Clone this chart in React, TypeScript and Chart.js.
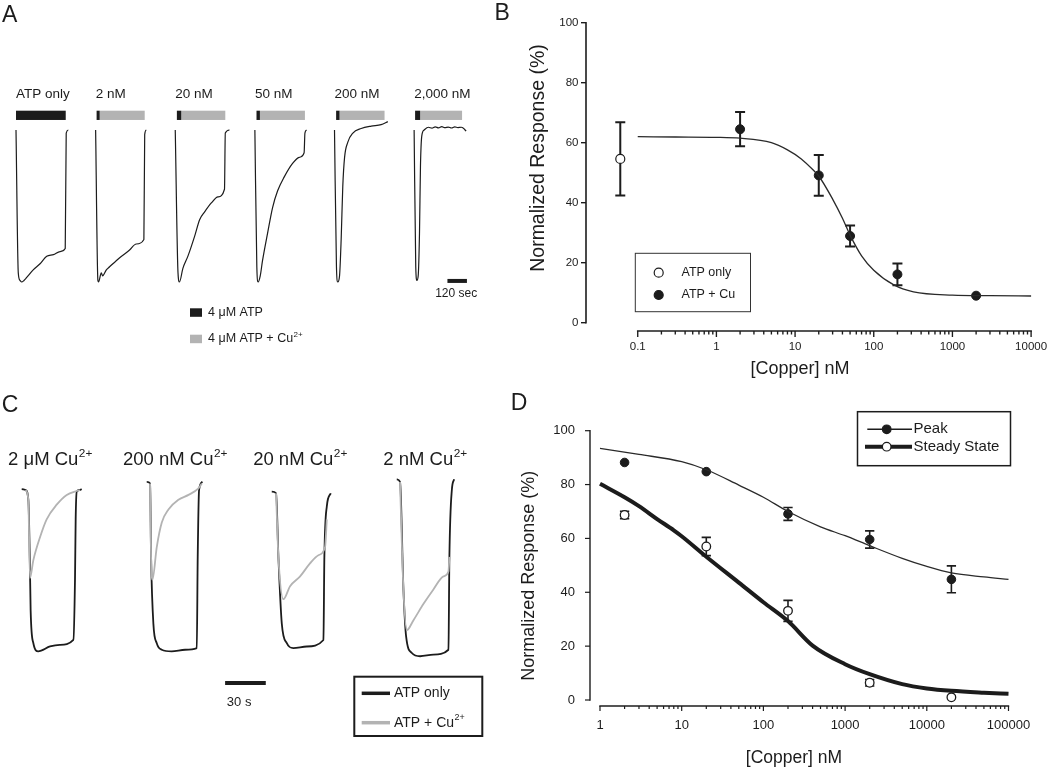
import React, { useEffect, useRef } from "react";
import { Chart, registerables } from "chart.js";

Chart.register(...registerables);

const FONT = "'Liberation Sans', Arial, Helvetica, sans-serif";
const PAGE_W = 1050;
const PAGE_H = 768;
const INK = "#1c1c1c";
const GREY = "#b3b3b3";

// ================= Panel A : whole-cell current traces (time s, current % of peak) =================
const A_LABELS = ["ATP only", "2 nM", "20 nM", "50 nM", "200 nM", "2,000 nM"];
const A_BLACK_START = [0, 6, 10, 10, 10, 6];
const A_BLACK_END = [306, 25, 37, 31, 31, 37];
const A_GREY_END = [306, 302, 308, 308, 308, 295];
const A_SCALE_SEC = 120;

const A1_T = [0, 14, 25, 35, 49, 66, 106, 148, 189, 230, 271, 303, 309, 322];
const A1_V = [0, -94, -99, -100, -99, -97, -92, -88, -83, -82, -80, -78, -2, 0];
const A2_T = [0, 14, 18, 35, 43, 66, 86, 148, 209, 250, 297, 302, 312];
const A2_V = [0, -99, -100, -94, -96, -92, -90, -84, -79, -75, -72, -3, 0];
const A3_T = [0, 17, 26, 47, 78, 119, 150, 180, 222, 263, 303, 308, 334];
const A3_V = [0, -94, -100, -91, -83, -70, -59, -54, -48, -44, -39, -2, 0];
const A4_T = [0, 12, 20, 33, 47, 78, 109, 140, 180, 232, 273, 303, 308, 318];
const A4_V = [0, -90, -100, -96, -86, -68, -51, -40, -31, -22, -18, -15, -2, 0];
const A5_T = [0, 12, 20, 31, 41, 51, 62, 82, 113, 164, 226, 287, 328];
const A5_V = [0, -90, -100, -96, -72, -37, -18, -8, -2, 1, 2.6, 3.5, 5.5];
const A6_T = [0, 10, 17, 25, 33, 39, 47, 62, 88, 110, 130, 150, 170, 190, 210, 230, 250, 270, 290, 305, 320];
const A6_V = [0, -90, -99, -96, -68, -24, -4, 0, 1.8, 1.2, 2.0, 1.4, 2.2, 1.5, 1.9, 1.3, 2.0, 1.6, 1.8, 1.0, -0.8];

// ================= Panel B : dose response =================
const B_ATP_X = [0.06];
const B_ATP_Y = [54.6];
const B_ATP_ERR = [12.2];
const B_CU_X = [2, 20, 50, 200, 2000];
const B_CU_Y = [64.5, 49.1, 28.9, 16.1, 9.0];
const B_CU_ERR = [5.7, 6.8, 3.5, 3.6, 0];
const B_FIT_X = [0.1, 0.3, 1, 2, 5, 8, 12, 17, 20, 30, 40, 50, 70, 100, 180, 320, 1000, 3000, 10000];
const B_FIT_Y = [62, 61.9, 61.8, 61.5, 60, 57.6, 54.6, 50.9, 48.9, 41.2, 34.8, 29.2, 22.3, 17.5, 12.6, 10.3, 9.2, 9.0, 8.9];
const B_X_TICKS = [0.1, 1, 10, 100, 1000, 10000];
const B_X_LABELS = ["0.1", "1", "10", "100", "1000", "10000"];
const B_Y_TICKS = [0, 20, 40, 60, 80, 100];

// ================= Panel C : paired traces =================
const C_LABELS = ["2 μM Cu", "200 nM Cu", "20 nM Cu", "2 nM Cu"];
const C_SUP = "2+";
const C_SCALE_SEC = 30;

const C1_ATP_T = [0, 2.9, 4.9, 6.0, 6.6, 8.6, 12.2, 20.9, 28.2, 38.1, 39.3, 39.8, 40.6, 42.8, 44.2];
const C1_ATP_V = [0.6, 0, -6, -43, -74, -94, -99, -96, -95, -92, -55, -18, -1, 0, 0.6];
const C1_CU_T = [2.9, 4.9, 6.1, 8.6, 13.5, 18.4, 25.8, 33.2, 40.6, 43];
const C1_CU_V = [0, -6, -54, -43, -29, -18, -9, -3, -0.6, 0];
const C2_ATP_T = [0, 2.5, 3.2, 4.9, 7.4, 11.1, 18.4, 28.3, 36.9, 37.6, 38.6, 41.1];
const C2_ATP_V = [5, 4, -41, -82, -94, -98, -99, -98, -97, -41, 0, 5];
const C2_CU_T = [2.5, 3.2, 4.2, 7.4, 11.1, 16, 23.4, 30.8, 38.1, 40.6];
const C2_CU_V = [4, -41, -55, -35, -20, -12, -6, -3, 1, 4];
const C3_ATP_T = [0, 3.2, 4.9, 7.4, 11.1, 15.9, 25.8, 38.1, 38.8, 40.6, 43.5];
const C3_ATP_V = [-1, -2, -41, -82, -94, -97, -96, -92, -41, -10, -2];
const C3_CU_T = [3.2, 4.9, 8.6, 13.5, 20.9, 28.2, 34.4, 39.3, 40.6];
const C3_CU_V = [-2, -41, -67, -59, -53, -45, -40, -35, -18];
const C4_ATP_T = [0, 2.4, 4.9, 6.9, 11.1, 17.2, 27, 38.1, 38.8, 40.6, 42.3];
const C4_ATP_V = [6.6, 5, -61, -90, -100, -102, -101, -98, -41, 0, 6.6];
const C4_CU_T = [2.4, 4.9, 7.4, 12.2, 19.6, 27, 34.4, 38.1, 38.8];
const C4_CU_V = [5, -61, -86, -80, -70, -61, -53, -50, -41];

// ================= Panel D : peak vs steady state =================
const D_X = [2, 20, 200, 2000, 20000];
const D_PEAK = [88.2, 84.8, 69.1, 59.6, 44.8];
const D_PEAK_ERR = [0, 0, 2.4, 3.2, 5.0];
const D_STEADY = [68.7, 57.0, 33.1, 6.4, 1.0];
const D_STEADY_ERR = [1.4, 3.4, 3.9, 1.2, 0];
const D_PEAK_FIT_X = [1, 3, 10, 20, 50, 100, 200, 500, 1000, 2000, 5000, 10000, 20000, 50000, 100000];
const D_PEAK_FIT_Y = [93.4, 91.2, 88.5, 85.5, 79.8, 75.3, 70.0, 64.3, 61.0, 57.3, 52.6, 49.6, 47.2, 45.7, 44.8];
const D_SS_FIT_X = [1, 2, 3, 5, 8, 10, 20, 50, 100, 200, 400, 1000, 2000, 5000, 10000, 20000, 50000, 100000];
const D_SS_FIT_Y = [80.3, 75.3, 72.0, 67.2, 63.0, 60.8, 53.2, 43.6, 36.3, 29.3, 20.2, 13.3, 9.6, 5.9, 4.3, 3.4, 2.7, 2.3];
const D_X_TICKS = [1, 10, 100, 1000, 10000, 100000];
const D_X_LABELS = ["1", "10", "100", "1000", "10000", "100000"];
const D_Y_TICKS = [0, 20, 40, 60, 80, 100];

// ---------------- layout constants ----------------
const A_PERIOD = 490; // seconds between trace origins on the shared time axis
const C_PERIOD = 92.2;

// ---------------- drawing helpers ----------------
function txt(ctx: any, s: string, x: number, y: number, size: number, align = "left", baseline = "middle", color = INK) {
  ctx.font = `${size}px ${FONT}`;
  ctx.fillStyle = color;
  ctx.textAlign = align;
  ctx.textBaseline = baseline;
  ctx.fillText(s, x, y);
}

function supTxt(ctx: any, main: string, sup: string, x: number, y: number, size: number, align = "left") {
  ctx.font = `${size}px ${FONT}`;
  const w1 = ctx.measureText(main).width;
  const ss = size * 0.64;
  ctx.font = `${ss}px ${FONT}`;
  const w2 = ctx.measureText(sup).width;
  const total = w1 + 0.5 + w2;
  const x0 = align === "center" ? x - total / 2 : x;
  txt(ctx, main, x0, y, size, "left", "middle");
  txt(ctx, sup, x0 + w1 + 0.5, y - size * 0.36, ss, "left", "middle");
}

function seg(ctx: any, x1: number, y1: number, x2: number, y2: number, lw: number, color = INK) {
  ctx.strokeStyle = color;
  ctx.lineWidth = lw;
  ctx.beginPath();
  ctx.moveTo(x1, y1);
  ctx.lineTo(x2, y2);
  ctx.stroke();
}

function errorBars(ctx: any, xs: any, ys: any, xv: number[], yv: number[], ev: number[], capW: number, lw: number) {
  ctx.strokeStyle = INK;
  ctx.lineWidth = lw;
  for (let i = 0; i < xv.length; i++) {
    if (!ev[i]) continue;
    const px = xs.getPixelForValue(xv[i]);
    const t = ys.getPixelForValue(yv[i] + ev[i]);
    const b = ys.getPixelForValue(yv[i] - ev[i]);
    ctx.beginPath();
    ctx.moveTo(px, t);
    ctx.lineTo(px, b);
    ctx.moveTo(px - capW / 2, t);
    ctx.lineTo(px + capW / 2, t);
    ctx.moveTo(px - capW / 2, b);
    ctx.lineTo(px + capW / 2, b);
    ctx.stroke();
  }
}

function logAxisX(ctx: any, xs: any, yPx: number, ticks: number[], labels: string[], major: number, minor: number, lw: number, labelY: number, size: number) {
  const x0 = xs.getPixelForValue(ticks[0]);
  const x1 = xs.getPixelForValue(ticks[ticks.length - 1]);
  seg(ctx, x0 - lw / 2, yPx, x1 + lw / 2, yPx, lw);
  ctx.beginPath();
  ctx.lineWidth = lw * 0.85;
  for (let d = 0; d < ticks.length; d++) {
    const px = xs.getPixelForValue(ticks[d]);
    ctx.moveTo(px, yPx);
    ctx.lineTo(px, yPx + major);
    if (d < ticks.length - 1) {
      for (let k = 2; k <= 9; k++) {
        const mx = xs.getPixelForValue(ticks[d] * k);
        ctx.moveTo(mx, yPx);
        ctx.lineTo(mx, yPx + minor);
      }
    }
  }
  ctx.stroke();
  labels.forEach((s, i) => txt(ctx, s, xs.getPixelForValue(ticks[i]), labelY, size, "center", "middle"));
}

function linAxisY(ctx: any, ys: any, xPx: number, ticks: number[], tickLen: number, lw: number, labelRight: number, size: number) {
  const yTop = ys.getPixelForValue(ticks[ticks.length - 1]);
  const yBot = ys.getPixelForValue(ticks[0]);
  seg(ctx, xPx, yTop - lw / 2, xPx, yBot + lw / 2, lw);
  ticks.forEach((t) => {
    const py = ys.getPixelForValue(t);
    seg(ctx, xPx - tickLen, py, xPx, py, lw * 0.85);
    txt(ctx, String(t), labelRight, py, size, "right", "middle");
  });
}

function rotTitle(ctx: any, s: string, cx: number, cy: number, size: number) {
  ctx.save();
  ctx.translate(cx, cy);
  ctx.rotate(-Math.PI / 2);
  txt(ctx, s, 0, 0, size, "center", "middle");
  ctx.restore();
}

function dot(ctx: any, x: number, y: number, r: number, filled: boolean, lw = 1.2) {
  ctx.beginPath();
  ctx.arc(x, y, r, 0, Math.PI * 2);
  ctx.fillStyle = filled ? INK : "#ffffff";
  ctx.fill();
  ctx.lineWidth = lw;
  ctx.strokeStyle = INK;
  ctx.stroke();
}

function common(pad: any) {
  return {
    responsive: false,
    maintainAspectRatio: false,
    animation: false,
    devicePixelRatio: 1,
    events: [],
    layout: { padding: pad },
    plugins: { legend: { display: false }, tooltip: { enabled: false }, title: { display: false } },
  };
}

function pts(xs: number[], ys: number[], shift = 0) {
  return xs.map((x, i) => ({ x: x + shift, y: ys[i] }));
}

// ---------------- Panel A ----------------
function makeA(canvas: HTMLCanvasElement) {
  const T = [A1_T, A2_T, A3_T, A4_T, A5_T, A6_T];
  const V = [A1_V, A2_V, A3_V, A4_V, A5_V, A6_V];
  const datasets = T.map((t, i) => ({
    type: "line",
    data: pts(t, V[i], i * A_PERIOD),
    borderColor: INK,
    borderWidth: 1.2,
    pointRadius: 0,
    cubicInterpolationMode: "monotone",
    clip: false,
  }));
  const plugin = {
    id: "panelA",
    afterDraw(chart: any) {
      const { ctx } = chart;
      const xs = chart.scales.x;
      const ys = chart.scales.y;
      ctx.save();
      txt(ctx, "A", 2, 22, 23, "left", "alphabetic");
      const bTop = ys.getPixelForValue(12.7);
      const bBot = ys.getPixelForValue(6.6);
      A_LABELS.forEach((lab, i) => {
        const o = i * A_PERIOD;
        const xb0 = xs.getPixelForValue(o + A_BLACK_START[i]);
        const xb1 = xs.getPixelForValue(o + A_BLACK_END[i]);
        const xg1 = xs.getPixelForValue(o + A_GREY_END[i]);
        ctx.fillStyle = GREY;
        if (xg1 > xb1) ctx.fillRect(xb1, bTop, xg1 - xb1, bBot - bTop);
        ctx.fillStyle = INK;
        ctx.fillRect(xb0, bTop, xb1 - xb0, bBot - bTop);
        txt(ctx, lab, xs.getPixelForValue(o), bTop - 16.5, 13.5, "left", "middle");
      });
      // scale bar
      const sx0 = xs.getPixelForValue(2655);
      const sx1 = xs.getPixelForValue(2655 + A_SCALE_SEC);
      const sy = ys.getPixelForValue(-99.3);
      seg(ctx, sx0, sy, sx1, sy, 4);
      txt(ctx, `${A_SCALE_SEC} sec`, (sx0 + sx1) / 2 - 1, sy + 13, 12, "center", "middle");
      // legend
      ctx.fillStyle = INK;
      ctx.fillRect(190, 308.3, 12, 8.5);
      ctx.fillStyle = GREY;
      ctx.fillRect(190, 334.7, 12, 8.5);
      txt(ctx, "4 μM ATP", 208, 312.7, 12.5);
      supTxt(ctx, "4 μM ATP + Cu", "2+", 208, 339, 12.5);
      ctx.restore();
    },
  };
  return new Chart(canvas, {
    type: "line",
    data: { datasets } as any,
    options: {
      ...common({ left: 16, right: 579, top: 99.6, bottom: 478.4 }),
      scales: {
        x: { type: "linear", display: false, min: 0, max: 2800 },
        y: { type: "linear", display: false, min: -105, max: 20 },
      },
    } as any,
    plugins: [plugin],
  });
}

// ---------------- Panel B ----------------
function makeB(canvas: HTMLCanvasElement) {
  const plugin = {
    id: "panelB",
    beforeDatasetsDraw(chart: any) {
      const { ctx } = chart;
      ctx.save();
      errorBars(ctx, chart.scales.x, chart.scales.y, B_ATP_X, B_ATP_Y, B_ATP_ERR, 10, 2);
      errorBars(ctx, chart.scales.x, chart.scales.y, B_CU_X, B_CU_Y, B_CU_ERR, 10, 2);
      ctx.restore();
    },
    afterDraw(chart: any) {
      const { ctx, chartArea } = chart;
      const xs = chart.scales.x;
      const ys = chart.scales.y;
      ctx.save();
      txt(ctx, "B", 494.5, 20, 23, "left", "alphabetic");
      linAxisY(ctx, ys, chartArea.left, B_Y_TICKS, 5, 1.6, 578.5, 11.5);
      logAxisX(ctx, xs, chartArea.bottom + 8.3, B_X_TICKS, B_X_LABELS, 6, 3.5, 1.6, chartArea.bottom + 24.3, 11.5);
      rotTitle(ctx, "Normalized Response (%)", 539, 158, 19.5);
      txt(ctx, "[Copper] nM", 800, 369, 18, "center", "middle");
      // legend
      ctx.fillStyle = "#ffffff";
      ctx.fillRect(635.3, 253.3, 115.2, 58.4);
      ctx.strokeStyle = "#333";
      ctx.lineWidth = 1;
      ctx.strokeRect(635.3, 253.3, 115.2, 58.4);
      dot(ctx, 658.7, 272.7, 4.5, false);
      dot(ctx, 658.7, 295, 4.5, true);
      txt(ctx, "ATP only", 681.5, 272.7, 12.5);
      txt(ctx, "ATP + Cu", 681.5, 295, 12.5);
      ctx.restore();
    },
  };
  return new Chart(canvas, {
    type: "line",
    data: {
      datasets: [
        { type: "line", data: pts(B_FIT_X, B_FIT_Y), borderColor: "#2a2a2a", borderWidth: 1.3, pointRadius: 0, cubicInterpolationMode: "monotone", clip: false },
        { type: "line", showLine: false, data: pts(B_ATP_X, B_ATP_Y), pointRadius: 4.5, pointBackgroundColor: "#ffffff", pointBorderColor: INK, pointBorderWidth: 1.2, clip: false },
        { type: "line", showLine: false, data: pts(B_CU_X, B_CU_Y), pointRadius: 4.5, pointBackgroundColor: INK, pointBorderColor: INK, pointBorderWidth: 1, clip: false },
      ],
    } as any,
    options: {
      ...common({ left: 586, right: 18.9, top: 22.7, bottom: 445.3 }),
      scales: {
        x: { type: "logarithmic", display: false, min: 0.022, max: 10000 },
        y: { type: "linear", display: false, min: 0, max: 100 },
      },
    } as any,
    plugins: [plugin],
  });
}

// ---------------- Panel C ----------------
function makeC(canvas: HTMLCanvasElement) {
  const AT = [C1_ATP_T, C2_ATP_T, C3_ATP_T, C4_ATP_T];
  const AV = [C1_ATP_V, C2_ATP_V, C3_ATP_V, C4_ATP_V];
  const CT = [C1_CU_T, C2_CU_T, C3_CU_T, C4_CU_T];
  const CV = [C1_CU_V, C2_CU_V, C3_CU_V, C4_CU_V];
  const greyDs = CT.map((t, i) => ({
    type: "line", data: pts(t, CV[i], i * C_PERIOD), borderColor: GREY, borderWidth: 1.8, pointRadius: 0, cubicInterpolationMode: "monotone", clip: false,
  }));
  const blackDs = AT.map((t, i) => ({
    type: "line", data: pts(t, AV[i], i * C_PERIOD), borderColor: INK, borderWidth: 1.8, pointRadius: 0, cubicInterpolationMode: "monotone", clip: false,
  }));
  const plugin = {
    id: "panelC",
    afterDraw(chart: any) {
      const { ctx } = chart;
      const xs = chart.scales.x;
      const ys = chart.scales.y;
      ctx.save();
      txt(ctx, "C", 1.7, 412, 23, "left", "alphabetic");
      C_LABELS.forEach((lab, i) => {
        supTxt(ctx, lab, C_SUP, xs.getPixelForValue(i * C_PERIOD + 21), 460, 18.5, "center");
      });
      const sx0 = xs.getPixelForValue(150);
      const sx1 = xs.getPixelForValue(150 + C_SCALE_SEC);
      const sy = ys.getPixelForValue(-118.4);
      seg(ctx, sx0, sy, sx1, sy, 4);
      txt(ctx, `${C_SCALE_SEC} s`, sx0 + 1.7, sy + 19.3, 13, "left", "middle");
      // legend
      ctx.fillStyle = "#ffffff";
      ctx.fillRect(354.3, 676.7, 128, 59.3);
      ctx.strokeStyle = INK;
      ctx.lineWidth = 2;
      ctx.strokeRect(354.3, 676.7, 128, 59.3);
      seg(ctx, 361.7, 693.3, 390, 693.3, 3.5, INK);
      seg(ctx, 361.7, 722.7, 390, 722.7, 3.5, GREY);
      txt(ctx, "ATP only", 394, 693.3, 14);
      supTxt(ctx, "ATP + Cu", "2+", 394, 723, 14);
      ctx.restore();
    },
  };
  return new Chart(canvas, {
    type: "line",
    data: { datasets: [...greyDs, ...blackDs] } as any,
    options: {
      ...common({ left: 21.7, right: 580.8, top: 465.55, bottom: 98.7 }),
      scales: {
        x: { type: "linear", display: false, min: 0, max: 330 },
        y: { type: "linear", display: false, min: -110, max: 15 },
      },
    } as any,
    plugins: [plugin],
  });
}

// ---------------- Panel D ----------------
function makeD(canvas: HTMLCanvasElement) {
  const plugin = {
    id: "panelD",
    beforeDatasetsDraw(chart: any) {
      const { ctx } = chart;
      ctx.save();
      errorBars(ctx, chart.scales.x, chart.scales.y, D_X, D_PEAK, D_PEAK_ERR, 9.3, 1.6);
      errorBars(ctx, chart.scales.x, chart.scales.y, D_X, D_STEADY, D_STEADY_ERR, 9.3, 1.6);
      ctx.restore();
    },
    afterDraw(chart: any) {
      const { ctx, chartArea } = chart;
      const xs = chart.scales.x;
      const ys = chart.scales.y;
      ctx.save();
      txt(ctx, "D", 510.7, 410, 23, "left", "alphabetic");
      linAxisY(ctx, ys, chartArea.left, D_Y_TICKS, 5, 1.4, 575, 13);
      logAxisX(ctx, xs, chartArea.bottom + 6, D_X_TICKS, D_X_LABELS, 5, 3, 1.4, chartArea.bottom + 25, 13);
      rotTitle(ctx, "Normalized Response (%)", 528.7, 575.8, 18);
      txt(ctx, "[Copper] nM", 794, 758.3, 17.5, "center", "middle");
      // legend
      ctx.fillStyle = "#ffffff";
      ctx.fillRect(857.5, 411.7, 153, 54);
      ctx.strokeStyle = INK;
      ctx.lineWidth = 1.5;
      ctx.strokeRect(857.5, 411.7, 153, 54);
      seg(ctx, 867.3, 429.3, 912, 429.3, 1.5);
      dot(ctx, 886.7, 429.3, 4.3, true);
      seg(ctx, 865, 446.7, 912, 446.7, 4);
      dot(ctx, 886.7, 446.7, 4.3, false);
      txt(ctx, "Peak", 913.5, 429.3, 15);
      txt(ctx, "Steady State", 913.5, 446.7, 15);
      ctx.restore();
    },
  };
  return new Chart(canvas, {
    type: "line",
    data: {
      datasets: [
        { type: "line", data: pts(D_PEAK_FIT_X, D_PEAK_FIT_Y), borderColor: "#2a2a2a", borderWidth: 1.3, pointRadius: 0, cubicInterpolationMode: "monotone", clip: false },
        { type: "line", data: pts(D_SS_FIT_X, D_SS_FIT_Y), borderColor: INK, borderWidth: 4, pointRadius: 0, cubicInterpolationMode: "monotone", clip: false },
        { type: "line", showLine: false, data: pts(D_X, D_PEAK), pointRadius: 4.3, pointBackgroundColor: INK, pointBorderColor: INK, pointBorderWidth: 1, clip: false },
        { type: "line", showLine: false, data: pts(D_X, D_STEADY), pointRadius: 4.3, pointBackgroundColor: "#ffffff", pointBorderColor: INK, pointBorderWidth: 1.3, clip: false },
      ],
    } as any,
    options: {
      ...common({ left: 590, right: 41.5, top: 430.7, bottom: 68 }),
      scales: {
        x: { type: "logarithmic", display: false, min: 0.7545, max: 100000 },
        y: { type: "linear", display: false, min: 0, max: 100 },
      },
    } as any,
    plugins: [plugin],
  });
}

export default function App() {
  const aRef = useRef<HTMLCanvasElement>(null);
  const bRef = useRef<HTMLCanvasElement>(null);
  const cRef = useRef<HTMLCanvasElement>(null);
  const dRef = useRef<HTMLCanvasElement>(null);

  useEffect(() => {
    const charts = [makeA(aRef.current!), makeB(bRef.current!), makeC(cRef.current!), makeD(dRef.current!)];
    return () => charts.forEach((c) => c.destroy());
  }, []);

  const cs: React.CSSProperties = { position: "absolute", left: 0, top: 0, width: PAGE_W, height: PAGE_H };
  return (
    <div style={{ position: "absolute", left: 0, top: 0, width: PAGE_W, height: PAGE_H, background: "#ffffff", overflow: "hidden" }}>
      <canvas ref={aRef} width={PAGE_W} height={PAGE_H} style={cs} />
      <canvas ref={bRef} width={PAGE_W} height={PAGE_H} style={cs} />
      <canvas ref={cRef} width={PAGE_W} height={PAGE_H} style={cs} />
      <canvas ref={dRef} width={PAGE_W} height={PAGE_H} style={cs} />
    </div>
  );
}
